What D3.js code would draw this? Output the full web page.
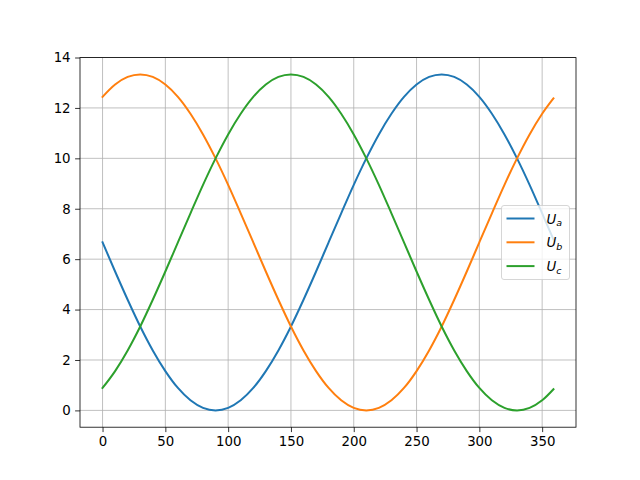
<!DOCTYPE html>
<html><head><meta charset="utf-8">
<script src="https://cdn.jsdelivr.net/npm/d3@7"></script>
<style>body{margin:0;background:#fff}svg{display:block}</style>
</head><body>
<svg id="c" width="640" height="480"></svg>
<script>
const angles = [0,10,20,30,40,50,60,70,80,90,100,110,120,130,140,150,160,170,180,190,200,210,220,230,240,250,260,270,280,290,300,310,320,330,340,350,359];
const Ua = [6.67,5.51,4.39,3.33,2.38,1.56,0.89,0.40,0.10,0.00,0.10,0.40,0.89,1.56,2.38,3.33,4.39,5.51,6.67,7.82,8.95,10.00,10.95,11.77,12.44,12.93,13.23,13.33,13.23,12.93,12.44,11.77,10.95,10.00,8.95,7.82,6.78];
const Ub = [12.44,12.93,13.23,13.33,13.23,12.93,12.44,11.77,10.95,10.00,8.95,7.82,6.67,5.51,4.39,3.33,2.38,1.56,0.89,0.40,0.10,0.00,0.10,0.40,0.89,1.56,2.38,3.33,4.39,5.51,6.67,7.82,8.95,10.00,10.95,11.77,12.38];
const Uc = [0.89,1.56,2.38,3.33,4.39,5.51,6.67,7.82,8.95,10.00,10.95,11.77,12.44,12.93,13.23,13.33,13.23,12.93,12.44,11.77,10.95,10.00,8.95,7.82,6.67,5.51,4.39,3.33,2.38,1.56,0.89,0.40,0.10,0.00,0.10,0.40,0.84];
const seriesNames = ["a","b","c"];
const xTicks = [0,50,100,150,200,250,300,350];
const yTicks = [0,2,4,6,8,10,12,14];

const colors = ["#1f77b4","#ff7f0e","#2ca02c"];
const series = [Ua,Ub,Uc];
const L=80,R=576,T=57.6,B=427.2;
const svg = d3.select("#c");
const xmin=d3.min(angles), xmax=d3.max(angles), xr=xmax-xmin;
const allY = series.flat(); const ymin=d3.min(allY), ymax=d3.max(allY), yr=ymax-ymin;
const x = d3.scaleLinear().domain([xmin-0.05*xr, xmax+0.05*xr]).range([L,R]);
const y = d3.scaleLinear().domain([ymin-0.05*yr, ymax+0.05*yr]).range([B,T]);
const font = "DejaVu Sans, sans-serif";

// grid
const g = svg.append("g");
xTicks.forEach(t=>g.append("line").attr("x1",x(t)).attr("x2",x(t)).attr("y1",T).attr("y2",B).attr("stroke","#b0b0b0").attr("stroke-width",0.8));
yTicks.forEach(t=>g.append("line").attr("x1",L).attr("x2",R).attr("y1",y(t)).attr("y2",y(t)).attr("stroke","#b0b0b0").attr("stroke-width",0.8));

// lines
const line = d3.line().x((d,i)=>x(angles[i])).y(d=>y(d)).curve(d3.curveMonotoneX);
series.forEach((s,k)=>svg.append("path").attr("d",line(s)).attr("fill","none").attr("stroke",colors[k]).attr("stroke-width",2).attr("stroke-linecap","square"));

// axes
const xa = svg.append("g").attr("transform",`translate(0,${B})`).call(d3.axisBottom(x).tickValues(xTicks).tickSize(4.9).tickPadding(4.5).tickFormat(d3.format("d")));
const ya = svg.append("g").attr("transform",`translate(${L},0)`).call(d3.axisLeft(y).tickValues(yTicks).tickSize(4.9).tickPadding(4.5).tickFormat(d3.format("d")));
[xa,ya].forEach(a=>{a.select(".domain").remove();a.selectAll("text").attr("font-family",font).attr("font-size","13.33px").attr("fill","#000");a.selectAll("line").attr("stroke","#000").attr("stroke-width",0.8);});
svg.append("rect").attr("x",L).attr("y",T).attr("width",R-L).attr("height",B-T).attr("fill","none").attr("stroke","#000").attr("stroke-width",0.8);

// legend
const lg = svg.append("g");
const lx=501.5, ly=205.5, lw=68, lh=74;
lg.append("rect").attr("x",lx).attr("y",ly).attr("width",lw).attr("height",lh).attr("rx",2.5).attr("fill","#fff").attr("fill-opacity",0.8).attr("stroke","#cccccc").attr("stroke-width",0.8);
seriesNames.forEach((n,k)=>{
  const yy = ly+13+k*23.8;
  lg.append("line").attr("x1",lx+5).attr("x2",lx+33).attr("y1",yy).attr("y2",yy).attr("stroke",colors[k]).attr("stroke-width",2);
  const t = lg.append("text").attr("x",lx+45).attr("y",yy+5).attr("font-family",font).attr("font-size","13.33px").attr("font-style","italic").attr("fill","#000");
  t.append("tspan").text("U");
  t.append("tspan").attr("font-size","9.5px").attr("dy",2.5).text(n);
});
</script>
</body></html>
